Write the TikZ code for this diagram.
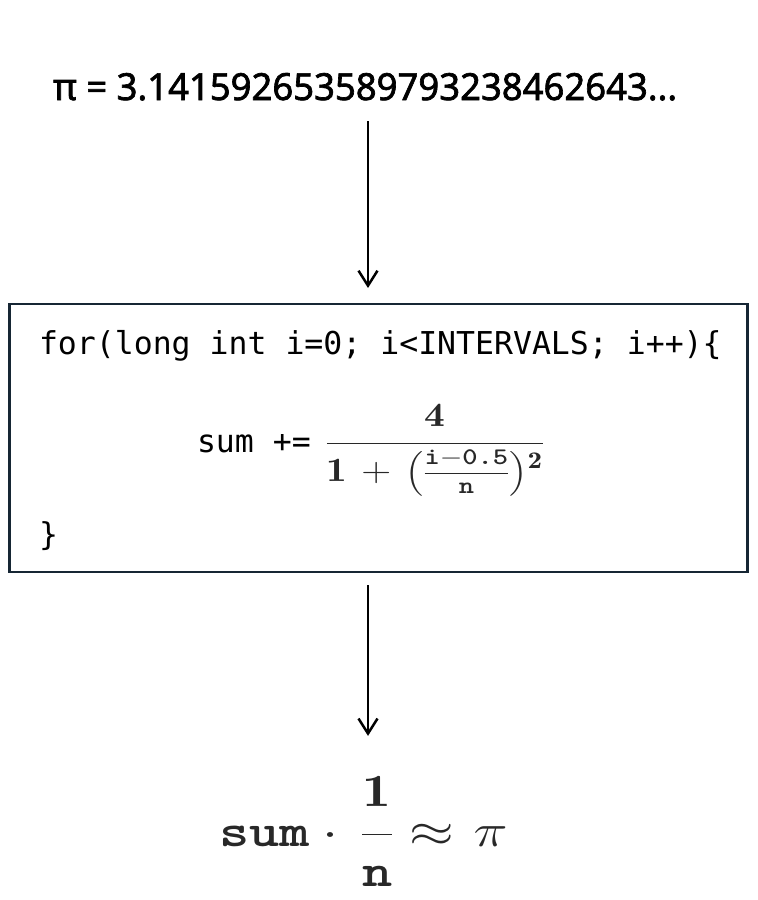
\RequirePackage{fix-cm}
\documentclass[tikz,border=0pt]{standalone}
\usepackage{amsmath}
\usepackage{fontspec}
\usepackage{graphicx}
\usetikzlibrary{arrows.meta,calc}
\newfontfamily\pifont[FakeBold=1.8]{Noto Sans}
\newfontfamily\codefont{DejaVu Sans Mono}
\definecolor{boxline}{RGB}{22,38,52}
\definecolor{mathgray}{RGB}{40,40,40}
\newcommand{\btt}[1]{\text{\ttfamily\bfseries #1}}
\begin{document}
\begin{tikzpicture}[x=1pt,y=-1pt,
  arr/.style={-{Straight Barb[length=15pt,width=19pt]}, line width=2.5pt},
  codebox/.style={draw=boxline, line width=2.6pt, minimum width=738pt,
    minimum height=268pt, inner sep=0pt, outer sep=0pt},
  txt/.style={inner sep=0pt, outer sep=0pt},
  code/.style={txt, anchor=base west, font=\codefont\fontsize{31.5}{36}\selectfont}]
\useasboundingbox (0,0) rectangle (758,900);
\coordinate (ax) at (368,0);
\node[txt, anchor=base west] (pi) at (53,100)
  {\resizebox{624pt}{27pt}{\pifont π = 3.141592653589793238462643...}};
\node[codebox] (box) at (378.5,438) {};
\node[code] (for) at (39,354) {for(long int i=0; i<INTERVALS; i++)\{};
\node[code] (sum) at (197,452) {sum +=\hspace{14.5pt}{\color{mathgray}\fontsize{34}{40}\selectfont
  \scalebox{1.22}[1]{$\medmuskip=6mu\displaystyle\frac{\mathbf{4}\rule[-14pt]{0pt}{14pt}}{\rule{0pt}{35pt}\mathbf{1}+\bigl(\frac{\btt{i}-\btt{0.5}\rule[-7pt]{0pt}{7pt}}{\btt{n}}\bigr)^{\lower8pt\hbox{$\scriptstyle\mathbf{2}$}}}$}}};
\node[code] (close) at (39,545) {\}};
\node[txt, anchor=base west, text=mathgray] (res) at (219,846)
  {\fontsize{46}{52}\selectfont\scalebox{1.25}[1]{$\displaystyle\mbox{\ttfamily\bfseries sum}\cdot\mkern3mu\frac{\mathbf{1}\rule[-25pt]{0pt}{25pt}}{\rule{0pt}{49pt}\mbox{\ttfamily\bfseries n}}\approx\mkern1mu\pi$}};
\draw[arr] ($(pi.base -| ax)+(0,21)$) -- ($(box.north -| ax)+(0,-16)$);
\draw[arr] ($(box.south -| ax)+(0,13)$) -- ($(res.north -| ax)+(0,-40)$);
\end{tikzpicture}
\end{document}
